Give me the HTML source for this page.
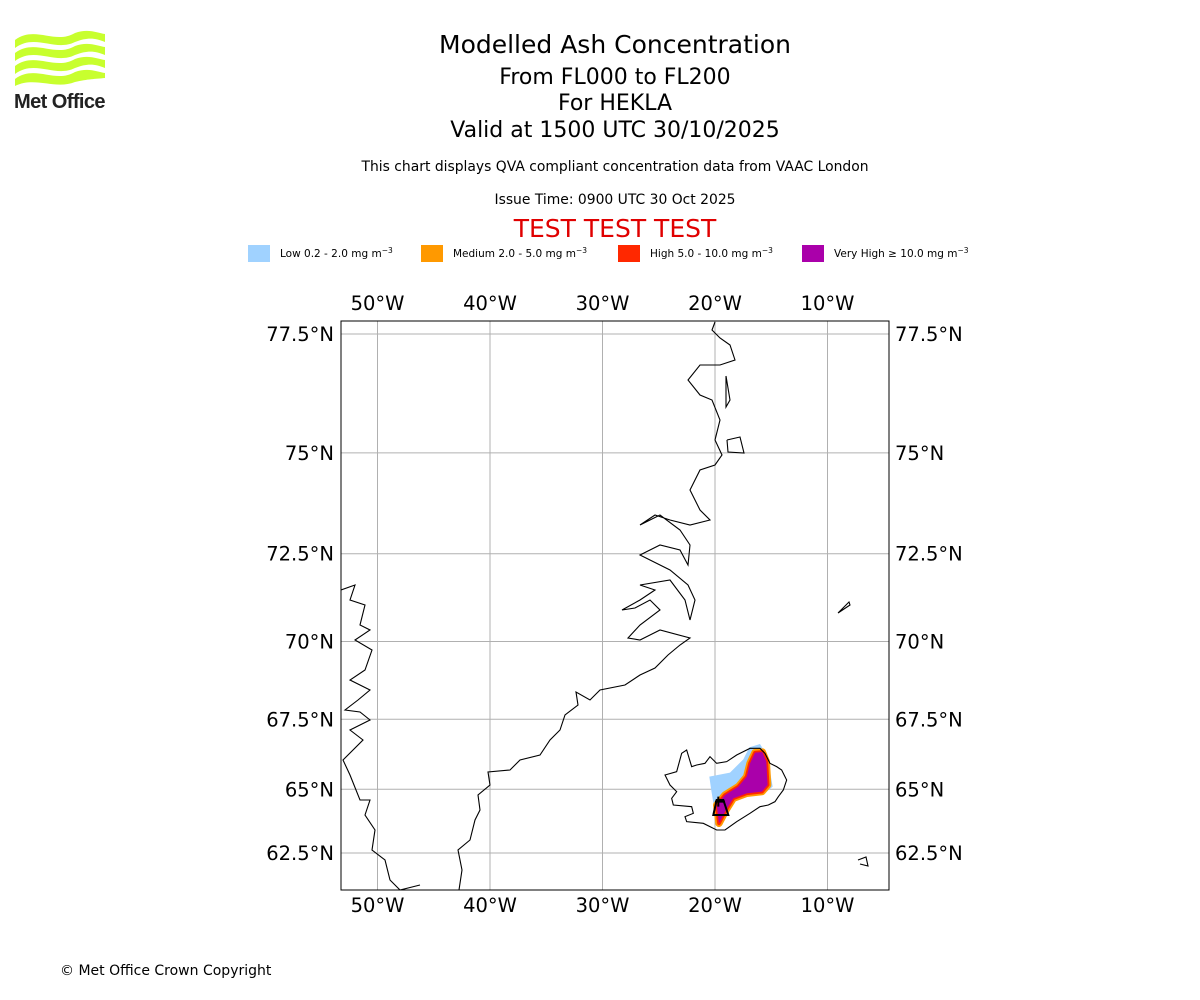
<!DOCTYPE html>
<html><head><meta charset="utf-8"><style>
body{margin:0;background:#fff;width:1200px;height:1000px;overflow:hidden;font-family:"Liberation Sans","DejaVu Sans",sans-serif}
svg{position:absolute;left:0;top:0}
</style></head><body>
<svg width="1200" height="1000" font-family="DejaVu Sans, Liberation Sans, sans-serif">
<g>
 <g fill="#c8ff2e">
  <path d="M15,40 C35,25 55,45 75,33 C88,28 98,33 105,34 L105,42 C95,38 88,37 75,42 C55,52 35,33 15,48Z"/>
  <path d="M15,53 C35,38 55,58 75,46 C88,41 98,46 105,47 L105,55 C95,51 88,50 75,55 C55,65 35,46 15,61Z"/>
  <path d="M15,66 C35,51 55,71 75,59 C88,54 98,59 105,60 L105,68 C95,64 88,63 75,68 C55,78 35,59 15,74Z"/>
  <path d="M15,79 C35,64 55,84 75,72 C88,67 98,72 105,73 L105,78 C95,79 88,79 75,82 C55,90 35,76 15,86Z"/>
 </g>
 <text x="14" y="108" font-size="20" font-weight="bold" fill="#222" font-family="Liberation Sans, sans-serif" letter-spacing="-0.6" textLength="91" lengthAdjust="spacingAndGlyphs">Met Office</text>
</g>
<g text-anchor="middle" fill="#000">
 <text x="615" y="53" font-size="25">Modelled Ash Concentration</text>
 <text x="615" y="84" font-size="22">From FL000 to FL200</text>
 <text x="615" y="110" font-size="22">For HEKLA</text>
 <text x="615" y="137" font-size="22">Valid at 1500 UTC 30/10/2025</text>
 <text x="615" y="171" font-size="13.9">This chart displays QVA compliant concentration data from VAAC London</text>
 <text x="615" y="204" font-size="13.9">Issue Time: 0900 UTC 30 Oct 2025</text>
 <text x="615" y="237" font-size="25" fill="#e00000">TEST TEST TEST</text>
</g>
<g font-size="10.5">
 <rect x="248" y="245" width="22" height="17" fill="#a0d2ff"/>
 <text x="280" y="257">Low 0.2 - 2.0 mg m<tspan dy="-4" font-size="7.5">−3</tspan></text>
 <rect x="421" y="245" width="22" height="17" fill="#ff9900"/>
 <text x="453" y="257">Medium 2.0 - 5.0 mg m<tspan dy="-4" font-size="7.5">−3</tspan></text>
 <rect x="618" y="245" width="22" height="17" fill="#ff2800"/>
 <text x="650" y="257">High 5.0 - 10.0 mg m<tspan dy="-4" font-size="7.5">−3</tspan></text>
 <rect x="802" y="245" width="22" height="17" fill="#aa00aa"/>
 <text x="834" y="257">Very High  ≥  10.0 mg m<tspan dy="-4" font-size="7.5">−3</tspan></text>
</g>
<g id="map">
 <defs><clipPath id="clip"><rect x="341" y="321" width="548" height="569"/></clipPath></defs>
 <g id="grid"></g>
 <g clip-path="url(#clip)" fill="none" stroke="#000" stroke-width="1.1">
  <polyline points="459,890 462,870 458,850 470,840 475,820 480,810 478,795 490,785 488,772 510,770 520,760 540,755 550,740 560,730 565,715 578,705 576,692 590,700 600,690 625,685 640,675 655,668 668,655 680,645 690,638 660,630 640,640 628,638 640,625 660,610 650,600 635,608 622,610 640,600 655,590 640,585 670,580 685,600 690,620 695,600 688,585 670,570 650,560 640,555 660,545 680,550 688,565 690,545 680,530 660,515 650,520 640,525 655,515 670,520 690,525 710,520 700,510 690,490 700,470 715,465 722,455 715,440 720,420 712,400 700,395 688,380 700,365 720,365 735,360 730,345 720,338 712,330 715,322"/>
  <polyline points="341,590 355,585 350,600 365,605 360,625 370,630 355,640 372,650 365,670 350,680 370,690 358,700 345,710 360,712 370,720 350,730 363,740 343,760 350,775 360,800 370,800 365,815 375,830 372,850 385,860 390,880 400,890 420,885"/>
  <polyline points="838,613 850,605 849,602 838,613"/>
  <polyline points="858,860 866,857 868,866 860,864"/>
  <polyline points="726,376 730,400 726,407 726,376"/>
  <polyline points="727,440 740,437 744,453 728,452 727,440"/>
 </g>
 <g transform="translate(650,730) scale(0.3333)">
  <path d="M178,140 L240,128 280,88 298,52 330,42 352,78 368,170 342,192 272,202 225,232 212,272 195,250 183,175Z" fill="#a0d2ff"/>
  <path d="M207,280 L200,225 225,195 265,170 290,140 300,100 315,68 337,66 349,95 353,165 336,185 290,190 250,205 228,240Z" fill="#ff9900" stroke="#ff9900" stroke-width="22" stroke-linejoin="round"/>
  <path d="M207,280 L200,225 225,195 265,170 290,140 300,100 315,68 337,66 349,95 353,165 336,185 290,190 250,205 228,240Z" fill="#ff2800" stroke="#ff2800" stroke-width="11" stroke-linejoin="round"/>
  <path d="M207,280 L200,225 225,195 265,170 290,140 300,100 315,68 337,66 349,95 353,165 336,185 290,190 250,205 228,240Z" fill="#aa00aa"/>
  <path d="M45,135 80,125 95,70 110,60 125,110 140,105 165,100 180,80 200,100 230,95 260,75 300,55 330,55 345,70 360,100 380,110 395,120 410,150 400,180 385,200 375,215 355,225 330,230 300,250 260,275 225,300 200,300 160,280 110,275 105,260 130,250 125,230 70,225 65,205 80,185 60,165Z" fill="none" stroke="#000" stroke-width="3.3"/>
  <path d="M190,255 L200,210 220,210 235,255Z M205,200 L205,230 M195,215 L225,215" fill="none" stroke="#000" stroke-width="6"/>
 </g>
 <rect x="341" y="321" width="548" height="569" fill="none" stroke="#000" stroke-width="1"/>
 <g id="labels" font-size="19.5" fill="#000"></g>
</g>
<text x="60" y="975" font-size="14" fill="#000">© Met Office Crown Copyright</text>
</svg>
<script>
const lonTicks=[-50,-40,-30,-20,-10];
const latTicks=[77.5,75,72.5,70,67.5,65,62.5];
const lonLabels=["50°W","40°W","30°W","20°W","10°W"];
const latLabels=["77.5°N","75°N","72.5°N","70°N","67.5°N","65°N","62.5°N"];
const X0=341,X1=889,Y0=321,Y1=890;
function xLon(l){return 715+(l+20)*11.25;}
function merc(l){return Math.log(Math.tan(Math.PI/4+l*Math.PI/360));}
function yLat(l){return 853-(merc(l)-merc(62.5))*645.5;}
const NS="http://www.w3.org/2000/svg";
const grid=document.getElementById('grid'),lab=document.getElementById('labels');
function mk(tag,attrs,parent){const e=document.createElementNS(NS,tag);for(const k in attrs)e.setAttribute(k,attrs[k]);parent.appendChild(e);return e;}
lonTicks.forEach((l,i)=>{const x=xLon(l);
 const ln=mk('line',{x1:x,x2:x,y1:Y0,y2:Y1,stroke:'#b0b0b0','stroke-width':1},grid);
 
 
 [310,912].forEach(y=>{const t=mk('text',{x:x,y:y,'text-anchor':'middle'},lab);t.textContent=lonLabels[i];
  
  });
});
latTicks.forEach((l,i)=>{const y=yLat(l);
 const ln=mk('line',{x1:X0,x2:X1,y1:y,y2:y,stroke:'#b0b0b0','stroke-width':1},grid);
 
 
 const t1=mk('text',{x:334,y:y+7,'text-anchor':'end'},lab);t1.textContent=latLabels[i];
 
 
 const t2=mk('text',{x:895,y:y+7,'text-anchor':'start'},lab);t2.textContent=latLabels[i];
 
 
});
</script>
</body></html>
